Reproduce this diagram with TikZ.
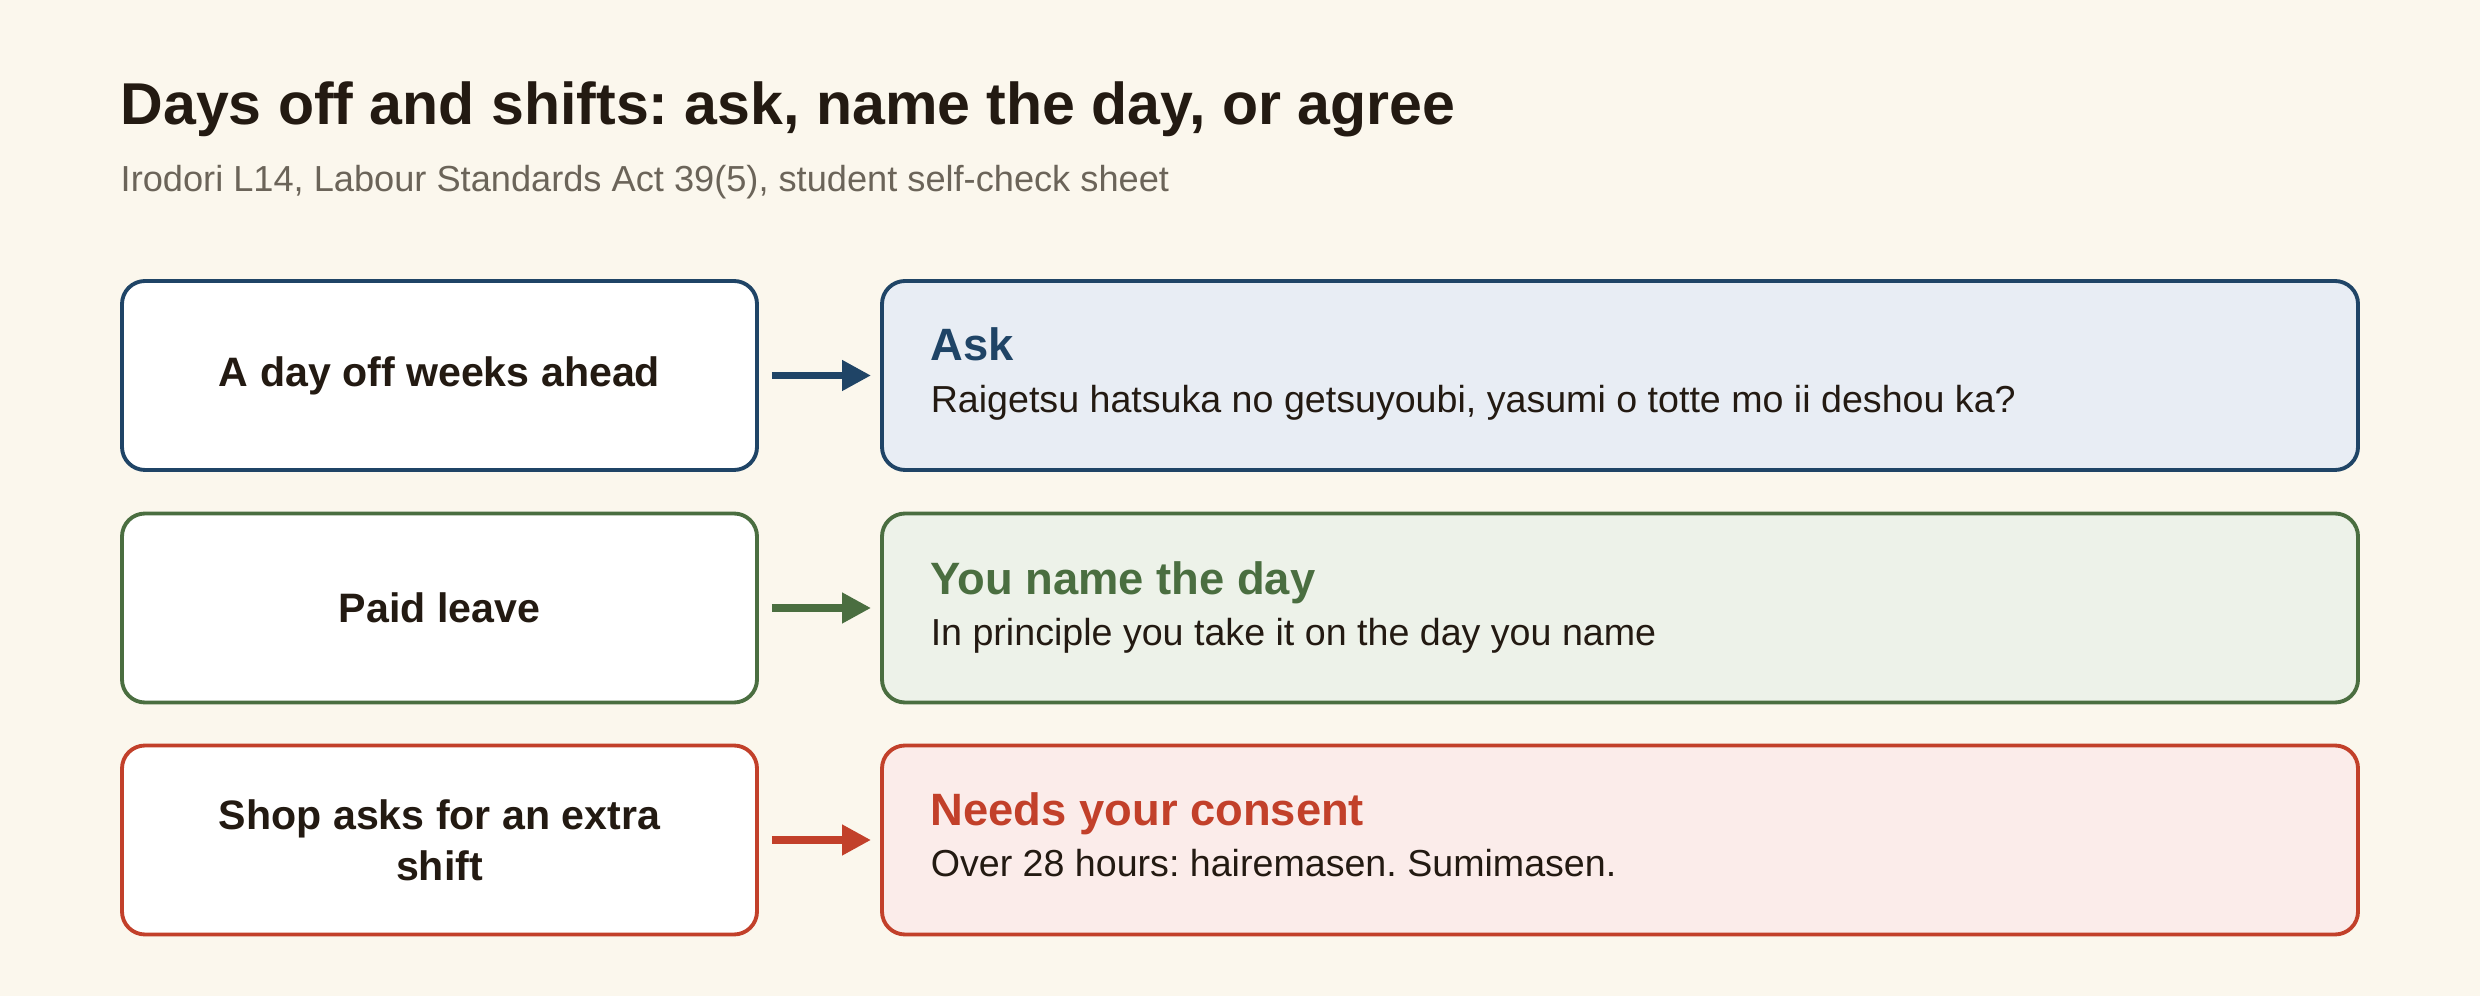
\documentclass[tikz,border=0pt]{standalone}
\usepackage{fontspec}
\setmainfont{Liberation Sans}
\usepackage{xcolor}
\usetikzlibrary{arrows.meta}
\frenchspacing
\definecolor{paper}{HTML}{FBF7ED}
\definecolor{ink}{HTML}{231A12}
\definecolor{muted}{HTML}{6B6459}
\definecolor{askblue}{HTML}{1F4466}
\definecolor{askfill}{HTML}{E8EDF4}
\definecolor{leavegreen}{HTML}{4A6E40}
\definecolor{leavefill}{HTML}{EDF2E9}
\definecolor{shiftred}{HTML}{C2402A}
\definecolor{shiftfill}{HTML}{FBECEA}
\tikzset{
    situation/.style={rectangle,rounded corners=0.23cm,draw,fill=white,line width=1.1pt,
        minimum width=6.35cm,minimum height=1.89cm,align=center,text=ink,
        font=\bfseries\fontsize{11.7}{14.4}\selectfont},
    answer/.style={rectangle,rounded corners=0.23cm,draw,line width=1.1pt,
        minimum width=14.76cm,minimum height=1.89cm},
    answerhead/.style={anchor=base west,inner sep=0pt,font=\bfseries\fontsize{12.9}{15}\selectfont},
    answerbody/.style={anchor=base west,inner sep=0pt,text=ink,font=\fontsize{10.7}{12}\selectfont},
    leadsto/.style={arrows={-Triangle[length=0.29cm,width=0.29cm]},line width=2.1pt,
        shorten <=0.13cm,shorten >=0.09cm},
    }
\begin{document}
\begin{tikzpicture}
    \fill[paper] (0,0) rectangle (24.8,9.96);
    \useasboundingbox (0,0) rectangle (24.8,9.96);

    \node[anchor=base west,inner sep=0pt,text=ink,font=\bfseries\fontsize{16.8}{20}\selectfont]
        (title) at (1.20,8.71) {Days off and shifts: ask, name the day, or agree};
    \node[anchor=base west,inner sep=0pt,text=muted,font=\fontsize{10.3}{12}\selectfont]
        (subtitle) at (1.20,8.04) {Irodori L14, Labour Standards Act 39(5), student self-check sheet};

    \node[situation,draw=askblue] (dayoff) at (4.395,6.205) {A day off weeks ahead};
    \node[situation,draw=leavegreen] (paid) at (4.395,3.88) {Paid leave};
    \node[situation,draw=shiftred] (extra) at (4.395,1.56) {Shop asks for an extra\\shift};

    \node[answer,draw=askblue,fill=askfill] (ask) at (16.20,6.205) {};
    \node[answer,draw=leavegreen,fill=leavefill] (name) at (16.20,3.88) {};
    \node[answer,draw=shiftred,fill=shiftfill] (consent) at (16.20,1.56) {};

    \node[answerhead,text=askblue] (askhead) at ([xshift=0.50cm,yshift=0.15cm]ask.west) {Ask};
    \node[answerbody] (askbody) at ([xshift=0.50cm,yshift=-0.37cm]ask.west)
        {Raigetsu hatsuka no getsuyoubi, yasumi o totte mo ii deshou ka?};
    \node[answerhead,text=leavegreen] (namehead) at ([xshift=0.50cm,yshift=0.13cm]name.west) {You name the day};
    \node[answerbody] (namebody) at ([xshift=0.50cm,yshift=-0.38cm]name.west)
        {In principle you take it on the day you name};
    \node[answerhead,text=shiftred] (consenthead) at ([xshift=0.50cm,yshift=0.14cm]consent.west) {Needs your consent};
    \node[answerbody] (consentbody) at ([xshift=0.50cm,yshift=-0.37cm]consent.west)
        {Over 28 hours: hairemasen. Sumimasen.};

    \draw[leadsto,askblue] (dayoff) -- (ask);
    \draw[leadsto,leavegreen] (paid) -- (name);
    \draw[leadsto,shiftred] (extra) -- (consent);
\end{tikzpicture}
\end{document}
